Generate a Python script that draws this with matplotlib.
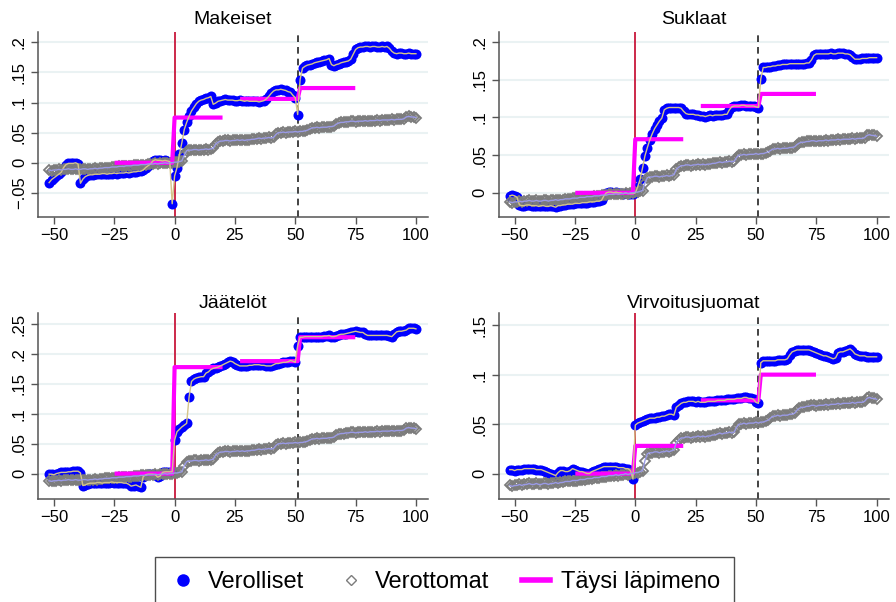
import numpy as np
import matplotlib
matplotlib.use("Agg")
import matplotlib.pyplot as plt
from matplotlib.lines import Line2D

plt.rcParams['font.family'] = ['Liberation Sans', 'DejaVu Sans']

# viikot tapahtumasta (-52 ... 100)
weeks = np.arange(-52, 101)

# verottomat (sama kaikissa paneeleissa)
untaxed = [
    -0.012, -0.013, -0.012, -0.012, -0.011, -0.012, -0.011, -0.011, -0.010, -0.011,
    -0.011, -0.010, -0.011, -0.011, -0.010, -0.010, -0.011, -0.010, -0.010, -0.009,
    -0.010, -0.009, -0.009, -0.008, -0.008, -0.008, -0.007, -0.007, -0.007, -0.006,
    -0.006, -0.006, -0.005, -0.005, -0.005, -0.004, -0.004, -0.004, -0.003, -0.003,
    -0.003, -0.002, -0.002, -0.002, -0.001, -0.002, -0.001, -0.001, 0.000, -0.001,
    0.000, 0.000, 0.001, 0.001, 0.002, 0.003, 0.013, 0.020, 0.021, 0.021,
    0.022, 0.022, 0.021, 0.022, 0.022, 0.023, 0.022, 0.023, 0.024, 0.031,
    0.034, 0.036, 0.036, 0.037, 0.037, 0.036, 0.037, 0.037, 0.038, 0.037,
    0.038, 0.037, 0.038, 0.038, 0.039, 0.039, 0.040, 0.041, 0.040, 0.041,
    0.041, 0.042, 0.041, 0.042, 0.047, 0.050, 0.050, 0.051, 0.050, 0.051,
    0.051, 0.051, 0.052, 0.051, 0.052, 0.052, 0.053, 0.054, 0.056, 0.058,
    0.058, 0.059, 0.058, 0.059, 0.059, 0.059, 0.060, 0.060, 0.061, 0.064,
    0.066, 0.067, 0.067, 0.068, 0.068, 0.069, 0.069, 0.068, 0.069, 0.069,
    0.069, 0.070, 0.069, 0.070, 0.070, 0.070, 0.071, 0.070, 0.071, 0.071,
    0.071, 0.071, 0.072, 0.071, 0.072, 0.072, 0.072, 0.073, 0.076, 0.077,
    0.076, 0.076, 0.075,
]

# verolliset, paneeleittain
taxed_makeiset = [
    -0.033, -0.028, -0.025, -0.022, -0.019, -0.016, -0.008, -0.003, -0.001, -0.001,
    -0.001, 0.000, -0.002, -0.034, -0.027, -0.023, -0.021, -0.020, -0.020, -0.019,
    -0.019, -0.019, -0.018, -0.018, -0.019, -0.018, -0.018, -0.017, -0.018, -0.017,
    -0.017, -0.017, -0.016, -0.017, -0.016, -0.015, -0.015, -0.014, -0.014, -0.012,
    -0.008, -0.005, -0.002, 0.003, 0.005, 0.004, 0.004, 0.003, 0.004, 0.003,
    0.002, -0.068, -0.022, -0.008, 0.014, 0.033, 0.055, 0.067, 0.077, 0.086,
    0.092, 0.098, 0.102, 0.104, 0.105, 0.107, 0.108, 0.110, 0.097, 0.099,
    0.102, 0.103, 0.104, 0.105, 0.104, 0.104, 0.104, 0.103, 0.103, 0.104,
    0.103, 0.102, 0.103, 0.102, 0.102, 0.102, 0.102, 0.101, 0.102, 0.103,
    0.106, 0.110, 0.115, 0.119, 0.121, 0.121, 0.122, 0.121, 0.120, 0.118,
    0.117, 0.112, 0.108, 0.080, 0.138, 0.157, 0.160, 0.162, 0.163, 0.164,
    0.166, 0.167, 0.168, 0.169, 0.170, 0.171, 0.173, 0.163, 0.161, 0.163,
    0.164, 0.166, 0.167, 0.168, 0.169, 0.172, 0.180, 0.188, 0.191, 0.192,
    0.192, 0.193, 0.193, 0.192, 0.193, 0.193, 0.192, 0.192, 0.193, 0.192,
    0.193, 0.190, 0.185, 0.182, 0.181, 0.182, 0.182, 0.181, 0.181, 0.182,
    0.181, 0.181, 0.181,
]
taxed_suklaat = [
    -0.004, -0.003, -0.004, -0.006, -0.016, -0.017, -0.017, -0.016, -0.016, -0.017,
    -0.017, -0.017, -0.018, -0.017, -0.017, -0.018, -0.018, -0.017, -0.018, -0.019,
    -0.017, -0.017, -0.016, -0.016, -0.015, -0.015, -0.015, -0.014, -0.014, -0.014,
    -0.013, -0.013, -0.013, -0.012, -0.012, -0.012, -0.011, -0.011, -0.010, -0.004,
    0.000, 0.001, 0.001, 0.000, 0.001, 0.000, 0.000, -0.001, 0.000, -0.001,
    -0.001, -0.001, 0.000, 0.008, 0.018, 0.033, 0.049, 0.060, 0.070, 0.078,
    0.085, 0.090, 0.095, 0.099, 0.110, 0.112, 0.113, 0.113, 0.113, 0.113,
    0.113, 0.112, 0.108, 0.105, 0.104, 0.104, 0.104, 0.103, 0.103, 0.102,
    0.102, 0.101, 0.102, 0.103, 0.102, 0.103, 0.103, 0.103, 0.103, 0.104,
    0.104, 0.110, 0.114, 0.115, 0.115, 0.115, 0.116, 0.116, 0.115, 0.115,
    0.115, 0.115, 0.114, 0.113, 0.151, 0.166, 0.166, 0.167, 0.167, 0.168,
    0.168, 0.169, 0.169, 0.170, 0.170, 0.170, 0.171, 0.171, 0.171, 0.171,
    0.171, 0.171, 0.171, 0.172, 0.172, 0.176, 0.182, 0.184, 0.184, 0.184,
    0.184, 0.184, 0.184, 0.185, 0.184, 0.184, 0.185, 0.185, 0.185, 0.184,
    0.184, 0.183, 0.180, 0.177, 0.177, 0.177, 0.178, 0.178, 0.178, 0.179,
    0.179, 0.179, 0.179,
]
taxed_jaatelot = [
    -0.001, -0.001, -0.002, 0.000, 0.001, 0.002, 0.002, 0.002, 0.003, 0.003,
    0.004, 0.004, 0.004, 0.001, -0.020, -0.019, -0.017, -0.016, -0.016, -0.016,
    -0.015, -0.015, -0.016, -0.015, -0.015, -0.015, -0.014, -0.015, -0.015, -0.015,
    -0.015, -0.016, -0.016, -0.018, -0.021, -0.020, -0.019, -0.021, -0.023, -0.005,
    -0.002, -0.001, -0.001, -0.001, -0.002, -0.006, -0.004, 0.002, 0.003, 0.003,
    0.003, 0.003, 0.056, 0.070, 0.074, 0.078, 0.081, 0.084, 0.128, 0.154,
    0.158, 0.160, 0.161, 0.162, 0.162, 0.168, 0.170, 0.174, 0.176, 0.177,
    0.178, 0.180, 0.182, 0.184, 0.186, 0.188, 0.187, 0.184, 0.182, 0.180,
    0.180, 0.180, 0.180, 0.181, 0.181, 0.182, 0.182, 0.182, 0.181, 0.181,
    0.180, 0.180, 0.180, 0.182, 0.184, 0.184, 0.185, 0.186, 0.186, 0.187,
    0.189, 0.188, 0.186, 0.214, 0.228, 0.228, 0.229, 0.229, 0.229, 0.229,
    0.229, 0.229, 0.229, 0.229, 0.230, 0.230, 0.231, 0.229, 0.229, 0.230,
    0.232, 0.233, 0.233, 0.234, 0.235, 0.236, 0.237, 0.238, 0.237, 0.236,
    0.236, 0.233, 0.231, 0.231, 0.231, 0.231, 0.231, 0.231, 0.231, 0.231,
    0.231, 0.230, 0.229, 0.233, 0.237, 0.238, 0.238, 0.239, 0.240, 0.243,
    0.243, 0.243, 0.242,
]
taxed_virvoitus = [
    0.004, 0.004, 0.003, 0.004, 0.004, 0.004, 0.005, 0.005, 0.005, 0.005,
    0.005, 0.004, 0.004, 0.004, 0.003, 0.002, 0.001, 0.000, -0.001, -0.002,
    0.001, 0.003, 0.003, 0.002, 0.002, 0.003, 0.005, 0.004, 0.003, 0.002,
    0.002, 0.001, 0.000, 0.000, 0.002, 0.003, 0.004, 0.005, 0.006, 0.007,
    0.007, 0.007, 0.007, 0.007, 0.007, 0.006, 0.006, 0.006, 0.005, 0.005,
    0.003, -0.005, 0.049, 0.051, 0.052, 0.053, 0.054, 0.055, 0.056, 0.056,
    0.056, 0.057, 0.057, 0.058, 0.058, 0.059, 0.060, 0.060, 0.059, 0.067,
    0.069, 0.071, 0.072, 0.072, 0.073, 0.073, 0.073, 0.072, 0.073, 0.072,
    0.072, 0.072, 0.073, 0.073, 0.073, 0.073, 0.074, 0.074, 0.074, 0.074,
    0.075, 0.075, 0.075, 0.075, 0.076, 0.076, 0.076, 0.077, 0.077, 0.076,
    0.076, 0.075, 0.072, 0.071, 0.112, 0.114, 0.114, 0.114, 0.114, 0.114,
    0.114, 0.115, 0.115, 0.115, 0.115, 0.116, 0.120, 0.123, 0.124, 0.125,
    0.125, 0.125, 0.125, 0.125, 0.125, 0.124, 0.123, 0.122, 0.121, 0.120,
    0.119, 0.119, 0.118, 0.117, 0.116, 0.117, 0.122, 0.123, 0.123, 0.124,
    0.125, 0.126, 0.124, 0.121, 0.120, 0.119, 0.119, 0.119, 0.118, 0.118,
    0.118, 0.118, 0.118,
]

# täysi läpimeno: kaksi porrasjaksoa
full_x1 = [-24, -1, 0, 19]
full_x2 = [28, 51, 52, 74]
full_makeiset = ([0.0, 0.0, 0.075, 0.075], [0.106, 0.106, 0.124, 0.124])
full_suklaat = ([0.0, 0.0, 0.071, 0.071], [0.115, 0.115, 0.131, 0.131])
full_jaatelot = ([0.0, 0.0, 0.178, 0.178], [0.188, 0.188, 0.228, 0.228])
full_virvoitus = ([0.0, 0.0, 0.028, 0.028], [0.074, 0.074, 0.100, 0.100])

titles = ["Makeiset", "Suklaat", "Jäätelöt", "Virvoitusjuomat"]
taxed = [taxed_makeiset, taxed_suklaat, taxed_jaatelot, taxed_virvoitus]
full = [full_makeiset, full_suklaat, full_jaatelot, full_virvoitus]
yticks = [[-0.05, 0, 0.05, 0.1, 0.15, 0.2],
          [0, 0.05, 0.1, 0.15, 0.2],
          [0, 0.05, 0.1, 0.15, 0.2, 0.25],
          [0, 0.05, 0.1, 0.15]]
ylims = [(-0.09, 0.217), (-0.032, 0.213), (-0.043, 0.268), (-0.026, 0.162)]
xticks = [-50, -25, 0, 25, 50, 75, 100]
event2 = 51

# asemointi pikseleinä
W, H = 896, 602
boxes = [(38, 32, 390, 185), (498.7, 32, 390, 185),
         (38, 313.3, 390, 186), (498.7, 313.3, 390, 186)]

BLUE = "#0000ff"
GRAY = "#7c7c7c"
MAGENTA = "#ff00ff"
KHAKI = "#d4c48a"
LAVENDER = "#9a9ae6"
AXCOL = "#555555"
MINUS = "\u2212"


def yfmt(v):
    # Stata-tyyli: .05, -.05
    if abs(v) < 1e-9:
        return "0"
    s = ("%.2f" % abs(v)).rstrip("0").lstrip("0")
    return (MINUS if v < 0 else "") + s


def xfmt(v):
    return (MINUS if v < 0 else "") + str(abs(v))


fig = plt.figure(figsize=(W / 100, H / 100), dpi=100)

for k in range(4):
    x0, y0, w, h = boxes[k]
    ax = fig.add_axes([x0 / W, 1 - (y0 + h) / H, w / W, h / H])
    ax.set_xlim(-56.6, 105)
    ax.set_ylim(*ylims[k])
    for yt in yticks[k]:
        ax.axhline(yt, color="#eaf2f3", lw=1.5, zorder=0)
    ax.axvline(0, color="#c8183c", lw=1.3, zorder=1)
    ax.axvline(event2, color="#222222", lw=1.2, ls=(0, (4, 3)), zorder=1)

    ax.plot(weeks, taxed[k], "o", color=BLUE, ms=7.2, mew=0, zorder=2)
    ax.plot(weeks, untaxed, "D", mfc="none", mec=GRAY, ms=5.2, mew=1.3, zorder=2)
    ax.plot(full_x1, full[k][0], color=MAGENTA, lw=3.0, zorder=3)
    ax.plot(full_x2, full[k][1], color=MAGENTA, lw=3.0, zorder=3)
    ax.plot(weeks, taxed[k], color=KHAKI, lw=1.0, zorder=4)
    ax.plot(weeks, untaxed, color=LAVENDER, lw=1.0, zorder=4)

    ax.set_xticks(xticks)
    ax.set_xticklabels([xfmt(t) for t in xticks])
    ax.set_yticks(yticks[k])
    ax.set_yticklabels([yfmt(t) for t in yticks[k]], rotation=90, va="center")
    ax.tick_params(axis="both", labelsize=12, length=5, width=1, color=AXCOL, pad=3)
    for side in ["top", "right"]:
        ax.spines[side].set_visible(False)
    for side in ["left", "bottom"]:
        ax.spines[side].set_color(AXCOL)
        ax.spines[side].set_linewidth(1.1)
    ax.set_title(titles[k], fontsize=14, pad=6 if k < 2 else 4)

handles = [
    Line2D([], [], ls="none", marker="o", color=BLUE, ms=9, mew=0),
    Line2D([], [], ls="none", marker="D", mfc="none", mec=GRAY, ms=5, mew=1.0),
    Line2D([], [], color=MAGENTA, lw=4),
]
labels = ["Verolliset", "Verottomat", "Täysi läpimeno"]
leg = fig.legend(handles, labels, loc="upper center", bbox_to_anchor=(444.5 / W, 1 - 557 / H),
                 borderaxespad=0, ncol=3, fontsize=17, frameon=True, fancybox=False,
                 edgecolor="#222222", handlelength=1.2, handletextpad=0.45,
                 columnspacing=1.35, borderpad=0.6)
leg.get_frame().set_linewidth(1.0)

fig.savefig("out.png", dpi=100)
